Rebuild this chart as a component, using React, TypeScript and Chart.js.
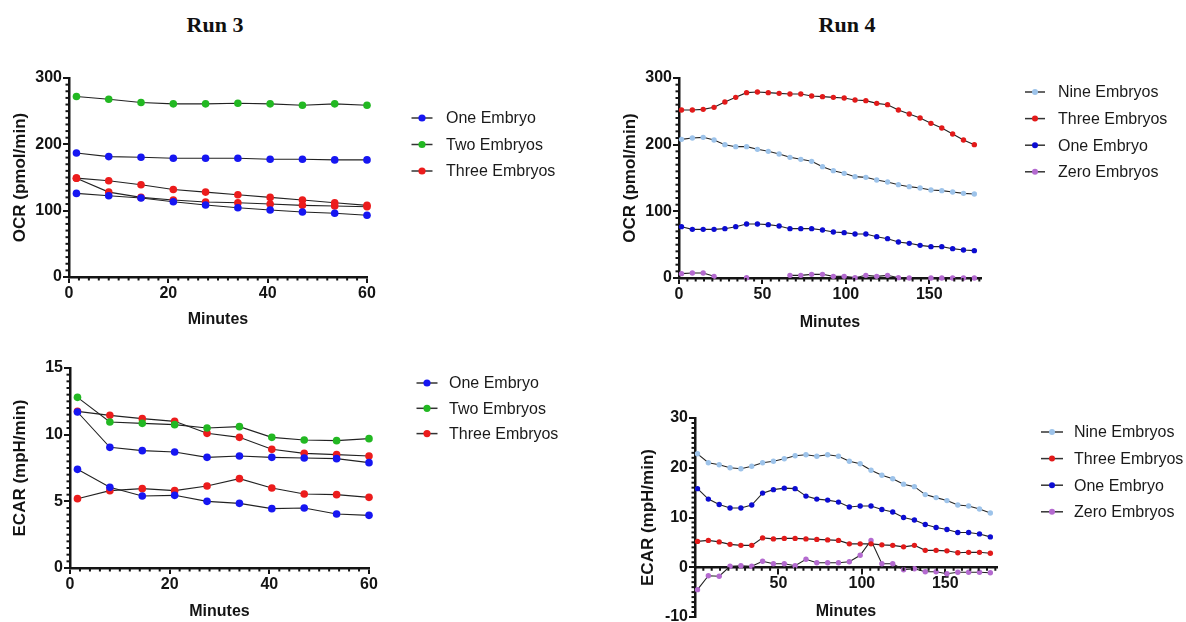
import React, { useEffect, useRef } from 'react';
import { Chart, registerables } from 'chart.js';

Chart.register(...registerables);

// ---------------- Data ----------------
const time3 = [1.5, 8, 14.5, 21, 27.5, 34, 40.5, 47, 53.5, 60];
const time4 = [1.5, 8, 14.5, 21, 27.5, 34, 40.5, 47, 53.5, 60, 66.5, 73, 79.5, 86, 92.5, 99, 105.5, 112, 118.5, 125, 131.5, 138, 144.5, 151, 157.5, 164, 170.5, 177];

const run3Labels = ['One Embryo', 'Two Embryos', 'Three Embryos'];
const run4Labels = ['Nine Embryos', 'Three Embryos', 'One Embryo', 'Zero Embryos'];

// Run 3 OCR (pmol/min)
const ocr3OneA = [187, 181.5, 180.5, 179, 179, 179, 177.5, 177.5, 176.5, 176.5];
const ocr3OneB = [126, 122.5, 119, 113.5, 108.5, 104.5, 101, 98, 96, 93];
const ocr3Two = [272, 268, 263, 261, 261, 262, 261, 259, 261, 259];
const ocr3ThreeA = [149, 145, 139, 132, 128, 124, 120, 116, 112, 108];
const ocr3ThreeB = [149, 128, 120, 116, 113, 112, 110, 108, 107, 106];

// Run 3 ECAR (mpH/min)
const ecar3OneA = [11.7, 9.05, 8.8, 8.7, 8.3, 8.4, 8.3, 8.25, 8.2, 7.9];
const ecar3OneB = [7.4, 6.05, 5.4, 5.45, 5.0, 4.85, 4.45, 4.5, 4.05, 3.95];
const ecar3Two = [12.8, 10.95, 10.85, 10.75, 10.5, 10.6, 9.8, 9.6, 9.55, 9.7];
const ecar3ThreeA = [11.75, 11.45, 11.2, 11.0, 10.1, 9.8, 8.9, 8.6, 8.5, 8.4];
const ecar3ThreeB = [5.2, 5.8, 5.95, 5.8, 6.15, 6.7, 6.0, 5.55, 5.5, 5.3];

// Run 4 OCR (pmol/min); null = off-scale (below 0, not drawn)
const ocr4Nine = [208, 210, 211, 207, 200, 197, 197, 193, 190, 186, 181, 178, 175, 167, 161, 157, 152, 151, 147, 144, 140, 137, 135, 132, 131, 129, 127, 126];
const ocr4Three = [252, 252, 253, 256, 264, 271, 278, 279, 278, 277, 276, 276, 273, 272, 271, 270, 267, 266, 262, 260, 252, 246, 240, 232, 225, 216, 207, 200];
const ocr4One = [77, 73, 73, 73, 74, 77, 81, 81, 80, 78, 74, 74, 74, 72, 69, 68, 66, 66, 62, 59, 54, 52, 49, 47, 47, 44, 42, 41];
const ocr4Zero = [6.5, 7.5, 7.5, 2.5, null, null, 0.5, null, null, null, 4, 4, 5.5, 5.5, 2.5, 2.5, 0.5, 4, 2.5, 4, 0.5, 0, null, 0, 0, 0, 0, 0];

// Run 4 ECAR (mpH/min)
const ecar4Nine = [22.8, 21.0, 20.6, 20.0, 19.8, 20.3, 21.0, 21.3, 21.8, 22.4, 22.6, 22.3, 22.6, 22.3, 21.3, 20.8, 19.5, 18.5, 17.8, 16.7, 16.2, 14.6, 14.0, 13.4, 12.5, 12.3, 11.7, 10.9];
const ecar4Three = [5.2, 5.4, 5.1, 4.6, 4.4, 4.4, 5.9, 5.7, 5.8, 5.8, 5.7, 5.6, 5.5, 5.4, 4.7, 4.7, 4.7, 4.5, 4.4, 4.1, 4.4, 3.4, 3.4, 3.3, 2.9, 3.0, 3.0, 2.8];
const ecar4One = [15.8, 13.7, 12.6, 11.9, 11.9, 12.5, 14.9, 15.6, 15.9, 15.8, 14.3, 13.7, 13.5, 13.1, 12.1, 12.3, 12.3, 11.6, 11.1, 10.0, 9.5, 8.6, 8.0, 7.6, 7.0, 7.0, 6.7, 6.1];
const ecar4Zero = [-4.5, -1.7, -1.8, 0.2, 0.3, 0.2, 1.2, 0.7, 0.7, 0.3, 1.6, 0.9, 0.9, 0.9, 1.1, 2.4, 5.4, 0.7, 0.7, -0.5, -0.3, -0.9, -0.9, -1.3, -1.0, -1.0, -1.0, -1.1];

// Axis ticks
const x3Major = [0, 20, 40, 60];
const x4Major = [0, 50, 100, 150];
const x4MajorEcar = [50, 100, 150];
const ocrMajor = [0, 100, 200, 300];
const ecar3Major = [0, 5, 10, 15];
const ecar4Major = [-10, 0, 10, 20, 30];

// ---------------- Styling ----------------
const FONT = '"Liberation Sans", Arial, Helvetica, sans-serif';
const INK = '#141414';
const C3 = { one: '#1616f2', two: '#22b822', three: '#ec1c1c' };
const C4 = { nine: '#9dc3ea', three: '#e21a1a', one: '#0c0cd2', zero: '#b46ad0' };

Chart.defaults.font.family = FONT;

interface SeriesDef { label: string; color: string; values: (number | null)[] }
interface PanelDef {
  canvas: { left: number; top: number; width: number; height: number };
  area: { left: number; top: number; right: number; bottom: number };
  xAxisHeight: number;
  yTitlePad: number;
  time: number[];
  series: SeriesDef[];
  xMin: number; xMax: number; xMajor: number[]; xMinor: number;
  yMin: number; yMax: number; yMajor: number[]; yMinor: number;
  yTitle: string;
  xAtZero: boolean;
  pointRadius: number;
  legend: { x: number; y0: number; dy: number; textX: number; r: number; half: number };
}

const minorTicksPlugin = {
  id: 'minorTicks',
  afterDraw(chart: any, _a: any, opts: any) {
    const { ctx, chartArea } = chart;
    const xs = chart.scales.x;
    const ys = chart.scales.y;
    const axisY = opts.xAtZero ? ys.getPixelForValue(0) : chartArea.bottom;
    const axisX = chartArea.left;
    const isMajor = (v: number, m: number[]) => m.some((q) => Math.abs(q - v) < 1e-6);
    ctx.save();
    ctx.strokeStyle = INK;
    ctx.lineWidth = 2;
    const ny = Math.round((ys.max - ys.min) / opts.yStep);
    for (let i = 0; i <= ny; i++) {
      const v = ys.min + i * opts.yStep;
      if (isMajor(v, opts.yMajor)) continue;
      const p = ys.getPixelForValue(v);
      ctx.beginPath();
      ctx.moveTo(axisX - opts.len, p);
      ctx.lineTo(axisX, p);
      ctx.stroke();
    }
    const nx = Math.floor((xs.max - xs.min) / opts.xStep + 1e-6);
    for (let i = 0; i <= nx; i++) {
      const v = xs.min + i * opts.xStep;
      if (isMajor(v, opts.xMajorAll)) continue;
      const p = xs.getPixelForValue(v);
      ctx.beginPath();
      ctx.moveTo(p, axisY);
      ctx.lineTo(p, axisY + opts.len);
      ctx.stroke();
    }
    ctx.restore();
  },
};

const sideLegendPlugin = {
  id: 'sideLegend',
  afterDraw(chart: any, _a: any, opts: any) {
    const { ctx } = chart;
    const seen = new Set<string>();
    const items: { label: string; color: string }[] = [];
    chart.data.datasets.forEach((ds: any) => {
      if (!seen.has(ds.label)) {
        seen.add(ds.label);
        items.push({ label: ds.label, color: ds.pointBackgroundColor });
      }
    });
    ctx.save();
    items.forEach((it, i) => {
      const cy = opts.y0 + i * opts.dy;
      ctx.strokeStyle = '#333';
      ctx.lineWidth = 1.5;
      ctx.beginPath();
      ctx.moveTo(opts.x - opts.half, cy);
      ctx.lineTo(opts.x + opts.half, cy);
      ctx.stroke();
      ctx.fillStyle = it.color;
      ctx.beginPath();
      ctx.arc(opts.x, cy, opts.r, 0, Math.PI * 2);
      ctx.fill();
      ctx.fillStyle = '#1a1a1a';
      ctx.font = `16px ${FONT}`;
      ctx.textBaseline = 'middle';
      ctx.textAlign = 'left';
      ctx.fillText(it.label, opts.textX, cy + 1);
    });
    ctx.restore();
  },
};

function buildChart(canvas: HTMLCanvasElement, p: PanelDef) {
  const c = p.canvas;
  const areaL = p.area.left - c.left;
  const areaT = p.area.top - c.top;
  const areaR = p.area.right - c.left;
  const areaB = p.area.bottom - c.top;
  const tickFont = { family: FONT, size: 16, weight: 'bold' as const };
  const datasets = p.series.map((s) => ({
    label: s.label,
    data: p.time.map((t, i) => ({ x: t, y: s.values[i] })),
    borderColor: '#222',
    borderWidth: 1.1,
    pointBackgroundColor: s.color,
    pointBorderColor: s.color,
    pointBorderWidth: 0,
    pointRadius: p.pointRadius,
    pointHoverRadius: p.pointRadius,
    showLine: true,
    spanGaps: false,
    clip: false as any,
    tension: 0,
    fill: false,
  }));
  const xMajorAll = p.xAtZero ? [0, ...p.xMajor] : p.xMajor;
  // An axis positioned at y = 0 does not take layout space
  const padBottom = p.xAtZero ? c.height - areaB : c.height - areaB - p.xAxisHeight;
  return new Chart(canvas, {
    type: 'line',
    data: { datasets },
    plugins: [minorTicksPlugin, sideLegendPlugin],
    options: {
      animation: false,
      responsive: false,
      maintainAspectRatio: false,
      events: [],
      layout: {
        padding: {
          left: 0,
          top: areaT,
          right: c.width - areaR,
          bottom: padBottom,
        },
      },
      scales: {
        x: {
          type: 'linear',
          min: p.xMin,
          max: p.xMax,
          position: p.xAtZero ? ({ y: 0 } as any) : 'bottom',
          afterBuildTicks: (s: any) => {
            s.ticks = p.xMajor.map((v) => ({ value: v }));
          },
          afterFit: (s: any) => {
            s.height = p.xAxisHeight;
          },
          ticks: {
            font: tickFont,
            color: INK,
            padding: 1,
            maxRotation: 0,
            autoSkip: false,
          },
          grid: { display: true, drawOnChartArea: false, drawTicks: true, tickLength: 6, color: INK, lineWidth: 2 },
          border: { display: true, color: INK, width: 2.5 },
          title: {
            display: true,
            text: 'Minutes',
            color: INK,
            font: { family: FONT, size: 16, weight: 'bold' },
            padding: { top: 0, bottom: 4 },
          },
        },
        y: {
          type: 'linear',
          min: p.yMin,
          max: p.yMax,
          position: 'left',
          afterBuildTicks: (s: any) => {
            s.ticks = p.yMajor.map((v) => ({ value: v }));
          },
          afterFit: (s: any) => {
            s.width = areaL;
          },
          ticks: { font: tickFont, color: INK, padding: 1, autoSkip: false },
          grid: { display: true, drawOnChartArea: false, drawTicks: true, tickLength: 6, color: INK, lineWidth: 2 },
          border: { display: true, color: INK, width: 2.5 },
          title: {
            display: true,
            text: p.yTitle,
            color: INK,
            font: { family: FONT, size: 17, weight: 'bold' },
            padding: { top: p.yTitlePad, bottom: 0 },
          },
        },
      },
      plugins: {
        legend: { display: false },
        tooltip: { enabled: false },
        minorTicks: {
          xAtZero: p.xAtZero,
          xStep: p.xMinor,
          yStep: p.yMinor,
          xMajorAll,
          yMajor: p.yMajor,
          len: 3.5,
        },
        sideLegend: {
          x: p.legend.x - c.left,
          y0: p.legend.y0 - c.top,
          dy: p.legend.dy,
          textX: p.legend.textX - c.left,
          r: p.legend.r,
          half: p.legend.half,
        },
      } as any,
    },
  } as any);
}

const panels: PanelDef[] = [
  {
    canvas: { left: 0, top: 45, width: 600, height: 300 },
    area: { left: 69, top: 78, right: 367, bottom: 277 },
    xAxisHeight: 56,
    yTitlePad: 10,
    time: time3,
    series: [
      { label: run3Labels[0], color: C3.one, values: ocr3OneA },
      { label: run3Labels[0], color: C3.one, values: ocr3OneB },
      { label: run3Labels[1], color: C3.two, values: ocr3Two },
      { label: run3Labels[2], color: C3.three, values: ocr3ThreeA },
      { label: run3Labels[2], color: C3.three, values: ocr3ThreeB },
    ],
    xMin: 0, xMax: 60, xMajor: x3Major, xMinor: 2,
    yMin: 0, yMax: 300, yMajor: ocrMajor, yMinor: 10,
    yTitle: 'OCR (pmol/min)',
    xAtZero: false,
    pointRadius: 3.8,
    legend: { x: 422, y0: 118, dy: 26.5, textX: 446, r: 3.6, half: 10.5 },
  },
  {
    canvas: { left: 0, top: 345, width: 600, height: 285 },
    area: { left: 70, top: 368, right: 369, bottom: 568 },
    xAxisHeight: 57,
    yTitlePad: 10.5,
    time: time3,
    series: [
      { label: run3Labels[0], color: C3.one, values: ecar3OneA },
      { label: run3Labels[0], color: C3.one, values: ecar3OneB },
      { label: run3Labels[1], color: C3.two, values: ecar3Two },
      { label: run3Labels[2], color: C3.three, values: ecar3ThreeA },
      { label: run3Labels[2], color: C3.three, values: ecar3ThreeB },
    ],
    xMin: 0, xMax: 60, xMajor: x3Major, xMinor: 2,
    yMin: 0, yMax: 15, yMajor: ecar3Major, yMinor: 0.5,
    yTitle: 'ECAR (mpH/min)',
    xAtZero: false,
    pointRadius: 3.8,
    legend: { x: 427, y0: 383, dy: 25.3, textX: 449, r: 3.6, half: 10.5 },
  },
  {
    canvas: { left: 600, top: 45, width: 586, height: 300 },
    area: { left: 679, top: 78, right: 981, bottom: 278 },
    xAxisHeight: 58,
    yTitlePad: 20.5,
    time: time4,
    series: [
      { label: run4Labels[0], color: C4.nine, values: ocr4Nine },
      { label: run4Labels[1], color: C4.three, values: ocr4Three },
      { label: run4Labels[2], color: C4.one, values: ocr4One },
      { label: run4Labels[3], color: C4.zero, values: ocr4Zero },
    ],
    xMin: 0, xMax: 181, xMajor: x4Major, xMinor: 5,
    yMin: 0, yMax: 300, yMajor: ocrMajor, yMinor: 10,
    yTitle: 'OCR (pmol/min)',
    xAtZero: false,
    pointRadius: 2.7,
    legend: { x: 1035, y0: 92, dy: 26.6, textX: 1058, r: 3, half: 10 },
  },
  {
    canvas: { left: 600, top: 395, width: 586, height: 290 },
    area: { left: 695, top: 418, right: 997, bottom: 617 },
    xAxisHeight: 58,
    yTitlePad: 38.5,
    time: time4,
    series: [
      { label: run4Labels[0], color: C4.nine, values: ecar4Nine },
      { label: run4Labels[1], color: C4.three, values: ecar4Three },
      { label: run4Labels[2], color: C4.one, values: ecar4One },
      { label: run4Labels[3], color: C4.zero, values: ecar4Zero },
    ],
    xMin: 0, xMax: 181, xMajor: x4MajorEcar, xMinor: 5,
    yMin: -10, yMax: 30, yMajor: ecar4Major, yMinor: 1,
    yTitle: 'ECAR (mpH/min)',
    xAtZero: true,
    pointRadius: 2.7,
    legend: { x: 1052, y0: 432, dy: 26.6, textX: 1074, r: 3, half: 11 },
  },
];

function Panel({ def }: { def: PanelDef }) {
  const ref = useRef<HTMLCanvasElement | null>(null);
  useEffect(() => {
    if (!ref.current) return;
    const chart = buildChart(ref.current, def);
    return () => chart.destroy();
  }, [def]);
  const c = def.canvas;
  return (
    <canvas
      ref={ref}
      width={c.width}
      height={c.height}
      style={{ position: 'absolute', left: c.left, top: c.top, width: c.width, height: c.height }}
    />
  );
}

const titleStyle: React.CSSProperties = {
  position: 'absolute',
  top: 25,
  transform: 'translate(-50%, -50%)',
  font: 'bold 22px "Liberation Serif", "Times New Roman", serif',
  color: '#111',
  whiteSpace: 'nowrap',
};

export default function App() {
  return (
    <div
      style={{
        position: 'absolute',
        left: 0,
        top: 0,
        width: 1186,
        height: 622,
        overflow: 'hidden',
        background: '#fff',
      }}
    >
      <div style={{ ...titleStyle, left: 215 }}>Run 3</div>
      <div style={{ ...titleStyle, left: 847 }}>Run 4</div>
      {panels.map((p, i) => (
        <Panel key={i} def={p} />
      ))}
    </div>
  );
}
